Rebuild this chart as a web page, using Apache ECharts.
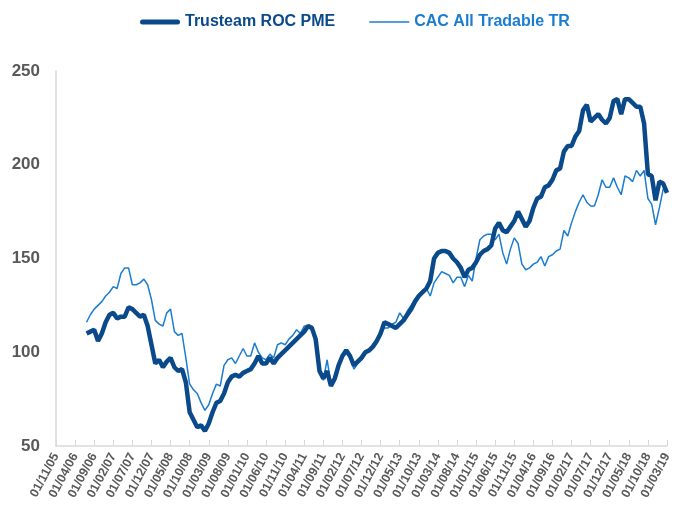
<!DOCTYPE html>
<html>
<head>
    <meta charset="utf-8">
    <script src="https://cdn.jsdelivr.net/npm/echarts@6/dist/echarts.min.js"></script>
</head>
<body style="margin:0">
    <div id="main" style="width: 676px; height: 513px"></div>
    <script type="text/javascript">
        // monthly axis: 01/11/05 .. 01/03/19, labels every 5 months
        var startYear = 2005, startMonth = 11, monthCount = 161;
        // both series start at 01/07/06 (8 months after axis start)
        var seriesOffset = 8;

        var trusteam = [
            110,111,112,106,110,116,120,121,118,119,
            119,124,123,121,119,120,114,104,94,96,
            92,95,97,92,90,91,84,68,64,60,
            61,58,62,68,73,74,78,84,87,88,
            87,89,90,91,94,98,94,94,97,94,
            97,99,101,103,105,107,109,111,114,113,
            107,90,86,90,82,86,93,98,101,98,
            93,95,97,100,101,103,106,110,116,115,
            114,113,115,117,120,123,127,130,132,134,
            138,150,153,154,154,153,150,148,145,140,
            144,145,148,152,154,155,157,166,169,165,
            164,167,170,175,171,167,170,177,182,183,
            188,189,192,197,198,207,210,210,215,218,
            229,232,223,225,227,224,222,225,234,235,
            227,235,235,233,231,231,222,195,194,181,
            191,190,185
        ];

        var cac = [
            116,120,123,125,127,130,132,135,134,142,
            145,145,136,136,137,139,136,128,117,115,
            114,121,123,111,109,110,97,83,80,78,
            73,69,72,78,83,82,93,96,97,94,
            98,102,98,98,105,100,97,96,99,97,
            104,105,104,107,109,112,110,114,114,112,
            107,92,85,96,83,86,92,98,100,97,
            91,94,96,99,101,104,107,110,113,113,
            115,116,121,118,122,125,128,131,133,134,
            130,137,140,143,142,141,137,140,140,135,
            141,138,150,160,162,163,163,160,163,153,
            147,155,161,158,147,144,145,147,148,151,
            146,151,152,154,155,165,162,169,175,180,
            184,180,178,178,184,192,188,188,193,188,
            184,194,193,191,197,194,197,182,179,168,
            177,187,187
        ];

        var seriesNames = ['Trusteam ROC PME', 'CAC All Tradable TR'];
        var colors = ['#0b4a8a', '#1b7dd0'];

        var dates = [];
        for (var i = 0; i < monthCount; i++) {
            var m = (startMonth - 1 + i) % 12 + 1;
            var y = startYear + Math.floor((startMonth - 1 + i) / 12);
            dates.push('01/' + (m < 10 ? '0' + m : m) + '/' + String(y).slice(2));
        }

        function pad(values) {
            var out = [];
            for (var i = 0; i < seriesOffset; i++) out.push(null);
            return out.concat(values);
        }

        var myChart = echarts.init(document.getElementById('main'));
        var axisFont = 'Liberation Sans, Arial, sans-serif';

        option = {
            animation: false,
            legend: {
                left: 135,
                top: 9,
                itemWidth: 40,
                itemHeight: 14,
                itemGap: 34,
                symbolKeepAspect: true,
                textStyle: {
                    fontFamily: axisFont,
                    fontWeight: 'bold',
                    fontSize: 16
                },
                data: [
                    {
                        name: seriesNames[0],
                        icon: 'path://M2.5,0H37.5A2.5,2.5,0,0,1,37.5,5H2.5A2.5,2.5,0,0,1,2.5,0Z',
                        textStyle: { color: colors[0] }
                    },
                    {
                        name: seriesNames[1],
                        icon: 'path://M0,0H40V1.5H0Z',
                        textStyle: { color: colors[1] }
                    }
                ]
            },
            grid: {
                left: 56,
                right: 9,
                top: 71,
                bottom: 67
            },
            xAxis: {
                type: 'category',
                boundaryGap: false,
                data: dates,
                axisLine: { lineStyle: { color: '#d9d9d9', width: 1.5 } },
                axisTick: {
                    inside: true,
                    length: 6,
                    interval: 4,
                    lineStyle: { color: '#d9d9d9' }
                },
                axisLabel: {
                    interval: 4,
                    rotate: 62,
                    margin: 8,
                    color: '#595959',
                    fontFamily: axisFont,
                    fontWeight: 'bold',
                    fontSize: 12.5
                }
            },
            yAxis: {
                type: 'value',
                min: 50,
                max: 250,
                interval: 50,
                splitLine: { show: false },
                axisLine: { show: true, lineStyle: { color: '#d9d9d9', width: 1.5 } },
                axisTick: { show: false },
                axisLabel: {
                    margin: 16,
                    color: '#595959',
                    fontFamily: axisFont,
                    fontWeight: 'bold',
                    fontSize: 17
                }
            },
            series: [
                {
                    name: seriesNames[1],
                    type: 'line',
                    data: pad(cac),
                    symbol: 'none',
                    color: colors[1],
                    lineStyle: { width: 1.5, color: colors[1] },
                    z: 2
                },
                {
                    name: seriesNames[0],
                    type: 'line',
                    data: pad(trusteam),
                    symbol: 'none',
                    color: colors[0],
                    lineStyle: { width: 4.5, color: colors[0] },
                    z: 3
                }
            ]
        };
        myChart.setOption(option);
    </script>
</body>
</html>
